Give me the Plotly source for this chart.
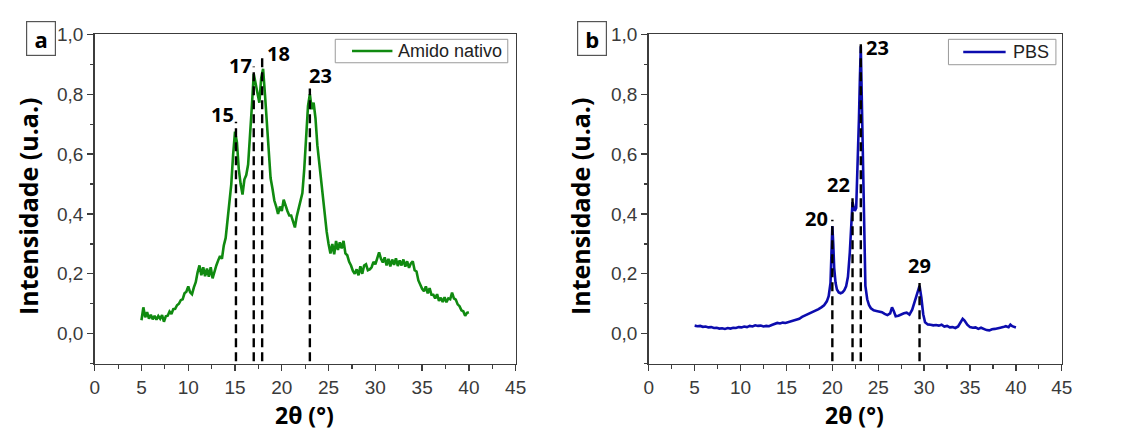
import numpy as np
import plotly.graph_objects as go

# ---------------- data ----------------
amido_y = [
    0.045, 0.088, 0.055, 0.072, 0.05, 0.063, 0.048, 0.06, 0.047, 0.059,
    0.05, 0.062, 0.04, 0.058, 0.06, 0.074, 0.066, 0.082, 0.083, 0.095,
    0.10, 0.112, 0.115, 0.135, 0.14, 0.158, 0.138, 0.132, 0.155, 0.172,
    0.205, 0.228, 0.195, 0.222, 0.192, 0.218, 0.19, 0.222, 0.185, 0.21,
    0.228, 0.245, 0.26, 0.25, 0.295, 0.32, 0.375, 0.43, 0.5, 0.6,
    0.675, 0.64, 0.55, 0.5, 0.465, 0.515, 0.53, 0.565, 0.65, 0.76,
    0.868, 0.835, 0.815, 0.772, 0.855, 0.885, 0.8, 0.7, 0.6, 0.52,
    0.485, 0.445, 0.425, 0.4, 0.425, 0.41, 0.448, 0.425, 0.41, 0.395,
    0.395, 0.375, 0.355, 0.392, 0.415, 0.445, 0.47, 0.55, 0.65, 0.76,
    0.8, 0.75, 0.772, 0.72, 0.63, 0.57, 0.52, 0.46, 0.4, 0.34,
    0.3, 0.268, 0.3, 0.265, 0.31, 0.28, 0.305, 0.285, 0.31, 0.268,
    0.262, 0.24, 0.228, 0.21, 0.2, 0.215, 0.195, 0.225, 0.2, 0.228,
    0.232, 0.212, 0.215, 0.222, 0.24, 0.232, 0.252, 0.272, 0.25, 0.238,
    0.255, 0.228, 0.25, 0.225, 0.248, 0.23, 0.252, 0.226, 0.245, 0.228,
    0.248, 0.224, 0.242, 0.22, 0.235, 0.242, 0.212, 0.208, 0.178, 0.162,
    0.15, 0.142, 0.158, 0.135, 0.152, 0.13, 0.13, 0.118, 0.132, 0.11,
    0.12, 0.106, 0.122, 0.105, 0.118, 0.115, 0.137, 0.118, 0.114, 0.098,
    0.092, 0.078, 0.075, 0.06, 0.07, 0.072,
]
amido_x = np.linspace(5, 40, len(amido_y))

pbs_x = [
    5.0, 5.3, 5.6, 5.9, 6.2, 6.5, 6.8, 7.1, 7.4, 7.7, 8.0, 8.3, 8.6, 8.9, 9.2,
    9.5, 9.8, 10.1, 10.4, 10.7, 11.0, 11.3, 11.6, 11.9, 12.2, 12.5, 12.8, 13.1,
    13.4, 13.7, 14.0, 14.3, 14.6, 14.9, 15.2, 15.5, 15.8, 16.1, 16.4, 16.7, 17.0,
    17.3, 17.6, 17.9, 18.2, 18.5, 18.8, 19.1, 19.4, 19.6, 19.8, 19.9, 20.0, 20.1,
    20.2, 20.35, 20.5, 20.7, 20.9, 21.1, 21.3, 21.5, 21.7, 21.9, 22.0, 22.1, 22.2,
    22.3, 22.45, 22.6, 22.7, 22.8, 22.9, 23.0, 23.1, 23.2, 23.3, 23.4, 23.5, 23.6,
    23.8, 24.0, 24.2, 24.5, 24.8, 25.1, 25.4, 25.7, 26.0, 26.3, 26.5, 26.7, 26.9,
    27.2, 27.5, 27.8, 28.1, 28.4, 28.7, 29.0, 29.2, 29.4, 29.5, 29.7, 29.9, 30.1,
    30.4, 30.7, 31.0, 31.3, 31.6, 31.9, 32.2, 32.5, 32.8, 33.1, 33.4, 33.7, 34.0,
    34.2, 34.4, 34.7, 35.0, 35.3, 35.6, 35.9, 36.2, 36.5, 36.8, 37.1, 37.4, 37.7,
    38.0, 38.3, 38.6, 38.9, 39.2, 39.4, 39.6, 39.8, 40.0,
]
pbs_y = [
    0.027, 0.025, 0.026, 0.023, 0.024, 0.021, 0.022, 0.019, 0.02, 0.017, 0.018,
    0.016, 0.019, 0.017, 0.02, 0.019, 0.022, 0.021, 0.024, 0.022, 0.026, 0.024,
    0.028, 0.026, 0.027, 0.024, 0.026, 0.025, 0.029, 0.033, 0.036, 0.034, 0.037,
    0.036, 0.039, 0.041, 0.043, 0.046, 0.05, 0.056, 0.06, 0.064, 0.068, 0.074,
    0.078, 0.082, 0.088, 0.095, 0.108, 0.125, 0.17, 0.25, 0.36, 0.3, 0.22, 0.17,
    0.148, 0.138, 0.135, 0.138, 0.145, 0.158, 0.19, 0.27, 0.33, 0.4, 0.44, 0.425,
    0.41, 0.42, 0.5, 0.6, 0.72, 0.85, 0.96, 0.8, 0.62, 0.42, 0.24, 0.16, 0.115,
    0.095, 0.085, 0.078, 0.076, 0.075, 0.072, 0.066, 0.062, 0.068, 0.088, 0.075,
    0.058, 0.06, 0.065, 0.068, 0.07, 0.064, 0.08, 0.11, 0.135, 0.155, 0.16, 0.12,
    0.065, 0.038, 0.031, 0.03, 0.028, 0.029, 0.027, 0.03, 0.024, 0.026, 0.021,
    0.022, 0.019, 0.024, 0.038, 0.05, 0.044, 0.03, 0.022, 0.02, 0.021, 0.016,
    0.02, 0.015, 0.012, 0.011, 0.015, 0.016, 0.019, 0.02, 0.022, 0.025, 0.022,
    0.03, 0.025, 0.022, 0.021,
]

peaks_a_x = [15.1, 17.0, 17.9, 23.0]
peaks_a_top = [0.708, 0.893, 0.926, 0.819]
peaks_a_labels = ["15", "17", "18", "23"]

peaks_b_x = [20.0, 22.2, 23.1, 29.5]
peaks_b_top = [0.381, 0.465, 0.978, 0.169]
peaks_b_labels = ["20", "22", "23", "29"]

series_names = ["Amido nativo", "PBS"]
panel_letters = ["a", "b"]

# ---------------- style ----------------
GREEN = "#108a10"
BLUE = "#0c0cae"
AX = "#3c3c3c"
TICKFONT = dict(family="Liberation Sans, Arial", size=19, color="#3a3a3a")
BOLD = "Open Sans"
DASH_BOTTOM = -0.092
offs_a = [(-1.45, 0.026), (-1.4, 0.004), (1.7, 0.011), (1.1, 0.044)]
offs_b = [(-1.7, 0.004), (-1.5, 0.035), (1.8, -0.021), (0.0, 0.06)]

W, H = 1130, 432
L1, R1 = 91, 518
L2, R2 = 653, 1072
TOP, BOT = 25, 362


def px(x):
    return x / W


def py(y):
    return 1 - y / H


fig = go.Figure()

fig.add_trace(go.Scatter(x=amido_x, y=amido_y, mode="lines", name=series_names[0],
                         line=dict(color=GREEN, width=2.6), xaxis="x", yaxis="y",
                         showlegend=False))
fig.add_trace(go.Scatter(x=pbs_x, y=pbs_y, mode="lines", name=series_names[1],
                         line=dict(color=BLUE, width=2.6), xaxis="x2", yaxis="y2",
                         showlegend=False))


def dashed(pxs, tops, xa, ya):
    xs, ys = [], []
    for p, t in zip(pxs, tops):
        xs += [p, p, None]
        ys += [DASH_BOTTOM, t, None]
    fig.add_trace(go.Scatter(x=xs, y=ys, mode="lines", showlegend=False,
                             line=dict(color="black", width=2.4, dash="9px,5px"),
                             xaxis=xa, yaxis=ya, hoverinfo="skip"))


dashed(peaks_a_x, peaks_a_top, "x", "y")
dashed(peaks_b_x, peaks_b_top, "x2", "y2")

annotations = []
for xs_, tops_, labs_, offs_, xr, yr in [
    (peaks_a_x, peaks_a_top, peaks_a_labels, offs_a, "x", "y"),
    (peaks_b_x, peaks_b_top, peaks_b_labels, offs_b, "x2", "y2"),
]:
    for p, t, lab, (dx, dy) in zip(xs_, tops_, labs_, offs_):
        annotations.append(dict(x=p + dx, y=t + dy, xref=xr, yref=yr, text="<b>" + lab + "</b>",
                                showarrow=False, font=dict(family=BOLD, size=20, color="black"),
                                xanchor="center", yanchor="middle"))

# axis titles
for cx in [24, 584]:
    annotations.append(dict(x=px(cx), y=py(201), xref="paper", yref="paper",
                            text="<b>Intensidade (u.a.)</b>", textangle=-90, showarrow=False,
                            font=dict(family=BOLD, size=25, color="black"),
                            xanchor="center", yanchor="middle"))
for cx in [304, 862]:
    annotations.append(dict(x=px(cx), y=py(415), xref="paper", yref="paper",
                            text="<b>2θ (°)</b>", showarrow=False,
                            font=dict(family=BOLD, size=23, color="black"),
                            xanchor="center", yanchor="middle"))
# panel letters
for cx, letter in zip([36.5, 595.5], panel_letters):
    annotations.append(dict(x=px(cx), y=py(29), xref="paper", yref="paper",
                            text="<b>" + letter + "</b>", showarrow=False,
                            font=dict(family=BOLD, size=22, color="black"),
                            bordercolor="#555555", borderwidth=1.2, borderpad=3,
                            width=22, height=27,
                            xanchor="center", yanchor="middle"))

# manual legends (box, line sample, text)
shapes = []
legend_boxes = [(335, 510, 30, 54, 352, 393, 397, GREEN),
                (957, 1066, 30, 56, 972, 1015, 1020, BLUE)]
for (bx0, bx1, by0, by1, lx0, lx1, tx, col), name in zip(legend_boxes, series_names):
    shapes.append(dict(type="rect", xref="paper", yref="paper",
                       x0=px(bx0), x1=px(bx1), y0=py(by1), y1=py(by0),
                       line=dict(color="#9a9a9a", width=1), fillcolor="white", layer="above"))
    ym = (by0 + by1) / 2
    shapes.append(dict(type="line", xref="paper", yref="paper",
                       x0=px(lx0), x1=px(lx1), y0=py(ym), y1=py(ym),
                       line=dict(color=col, width=2.6), layer="above"))
    annotations.append(dict(x=px(tx), y=py(ym), xref="paper", yref="paper", text=name,
                            showarrow=False, xanchor="left", yanchor="middle",
                            font=dict(family="Liberation Sans, Arial", size=18, color="#222222")))

xaxis_common = dict(range=[0, 45], tickvals=[0, 5, 10, 15, 20, 25, 30, 35, 40, 45],
                    ticks="outside", ticklen=6, tickwidth=1.3, tickcolor=AX,
                    minor=dict(dtick=2.5, tick0=0, ticks="outside", ticklen=3.5, tickwidth=1.2, tickcolor=AX),
                    showline=True, linecolor=AX, linewidth=1.6, mirror=True,
                    showgrid=False, zeroline=False, tickfont=TICKFONT, fixedrange=True)
yaxis_common = dict(range=[-0.1, 1.0], tickvals=[0, 0.2, 0.4, 0.6, 0.8, 1.0], tickformat=".1f",
                    ticks="outside", ticklen=6, tickwidth=1.3, tickcolor=AX,
                    minor=dict(dtick=0.1, tick0=0, ticks="outside", ticklen=3.5, tickwidth=1.2, tickcolor=AX),
                    showline=True, linecolor=AX, linewidth=1.6, mirror=True,
                    showgrid=False, zeroline=False, tickfont=TICKFONT, fixedrange=True)

fig.update_layout(
    width=W, height=H,
    margin=dict(l=0, r=0, t=0, b=0),
    paper_bgcolor="white", plot_bgcolor="white",
    separators=",.",
    xaxis=dict(domain=[px(L1), px(R1)], anchor="y", **xaxis_common),
    yaxis=dict(domain=[py(BOT), py(TOP)], anchor="x", **yaxis_common),
    xaxis2=dict(domain=[px(L2), px(R2)], anchor="y2", **xaxis_common),
    yaxis2=dict(domain=[py(BOT), py(TOP)], anchor="x2", **yaxis_common),
    annotations=annotations,
    shapes=shapes,
    showlegend=False,
    hovermode=False,
)

fig.write_html("out.html", config={"displayModeBar": False, "staticPlot": True},
               post_script="document.body.style.margin='0';document.body.style.overflow='hidden';")
